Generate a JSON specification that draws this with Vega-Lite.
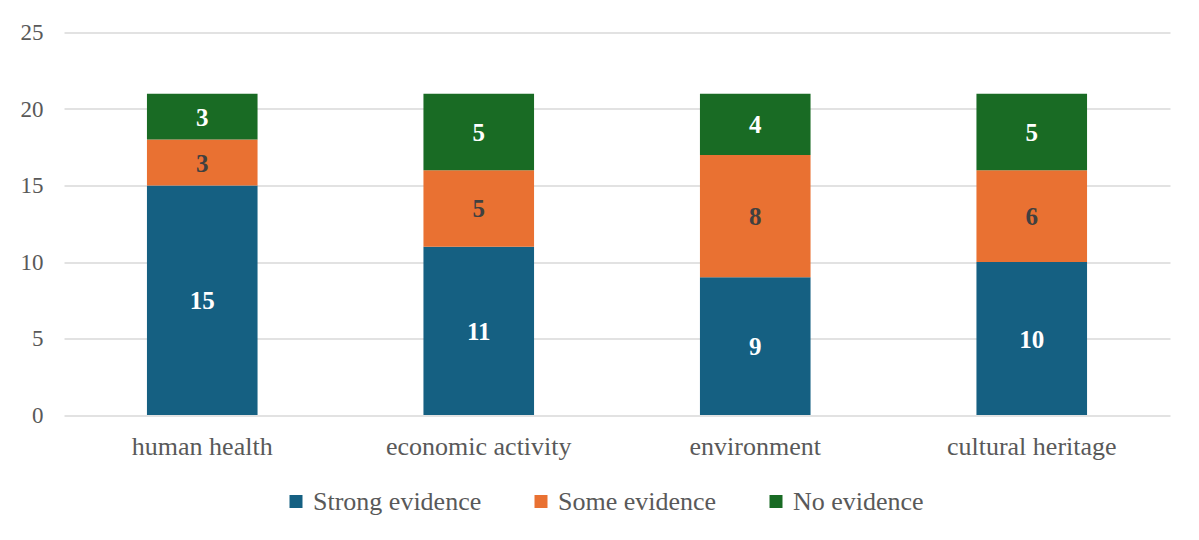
{
  "$schema": "https://vega.github.io/schema/vega-lite/v6.json",
  "width": 1106,
  "height": 382.5,
  "autosize": {"type": "none"},
  "padding": {"left": 64, "top": 32.5, "right": 29, "bottom": 125},
  "background": "white",
  "data": {
    "values": [
      {"category": "human health", "series": "Strong evidence", "order": 1, "value": 15},
      {"category": "human health", "series": "Some evidence", "order": 2, "value": 3},
      {"category": "human health", "series": "No evidence", "order": 3, "value": 3},
      {"category": "economic activity", "series": "Strong evidence", "order": 1, "value": 11},
      {"category": "economic activity", "series": "Some evidence", "order": 2, "value": 5},
      {"category": "economic activity", "series": "No evidence", "order": 3, "value": 5},
      {"category": "environment", "series": "Strong evidence", "order": 1, "value": 9},
      {"category": "environment", "series": "Some evidence", "order": 2, "value": 8},
      {"category": "environment", "series": "No evidence", "order": 3, "value": 4},
      {"category": "cultural heritage", "series": "Strong evidence", "order": 1, "value": 10},
      {"category": "cultural heritage", "series": "Some evidence", "order": 2, "value": 6},
      {"category": "cultural heritage", "series": "No evidence", "order": 3, "value": 5}
    ]
  },
  "transform": [
    {"stack": "value", "groupby": ["category"], "sort": [{"field": "order"}], "as": ["v0", "v1"]},
    {"calculate": "(datum.v0 + datum.v1) / 2", "as": "mid"}
  ],
  "encoding": {
    "x": {
      "field": "category",
      "type": "nominal",
      "sort": ["human health", "economic activity", "environment", "cultural heritage"],
      "scale": {"paddingInner": 0.6, "paddingOuter": 0.3},
      "axis": {
        "title": null,
        "labelAngle": 0,
        "domain": false,
        "ticks": false,
        "labelFont": "Liberation Serif",
        "labelFontSize": 26,
        "labelColor": "#595959",
        "labelPadding": 18,
        "labelLimit": 0
      }
    }
  },
  "layer": [
    {
      "mark": {"type": "bar"},
      "encoding": {
        "y": {
          "field": "v0",
          "type": "quantitative",
          "scale": {"domain": [0, 25], "nice": false},
          "axis": {
            "title": null,
            "values": [0, 5, 10, 15, 20, 25],
            "domain": false,
            "ticks": false,
            "grid": true,
            "gridColor": "#d9d9d9",
            "gridWidth": 1.5,
            "labelFont": "Liberation Serif",
            "labelFontSize": 23,
            "labelColor": "#595959",
            "labelPadding": 21
          }
        },
        "y2": {"field": "v1"},
        "color": {
          "field": "series",
          "type": "nominal",
          "scale": {
            "domain": ["Strong evidence", "Some evidence", "No evidence"],
            "range": ["#156082", "#E97132", "#196B24"]
          },
          "legend": {
            "title": null,
            "orient": "none",
            "legendX": 219,
            "legendY": 456,
            "direction": "horizontal",
            "symbolType": "square",
            "symbolSize": 169,
            "symbolStrokeWidth": 0,
            "labelFont": "Liberation Serif",
            "labelFontSize": 26,
            "labelColor": "#595959",
            "labelLimit": 400,
            "columnPadding": 46,
            "labelOffset": 4
          }
        }
      }
    },
    {
      "mark": {"type": "text", "font": "Liberation Serif", "fontSize": 25, "fontWeight": "bold", "baseline": "middle", "dy": 1},
      "encoding": {
        "y": {"field": "mid", "type": "quantitative"},
        "text": {"field": "value", "type": "quantitative"},
        "color": {
          "condition": {"test": "datum.series === 'Some evidence'", "value": "#404040"},
          "value": "white"
        }
      }
    }
  ],
  "config": {
    "font": "Liberation Serif",
    "view": {"stroke": null}
  }
}
